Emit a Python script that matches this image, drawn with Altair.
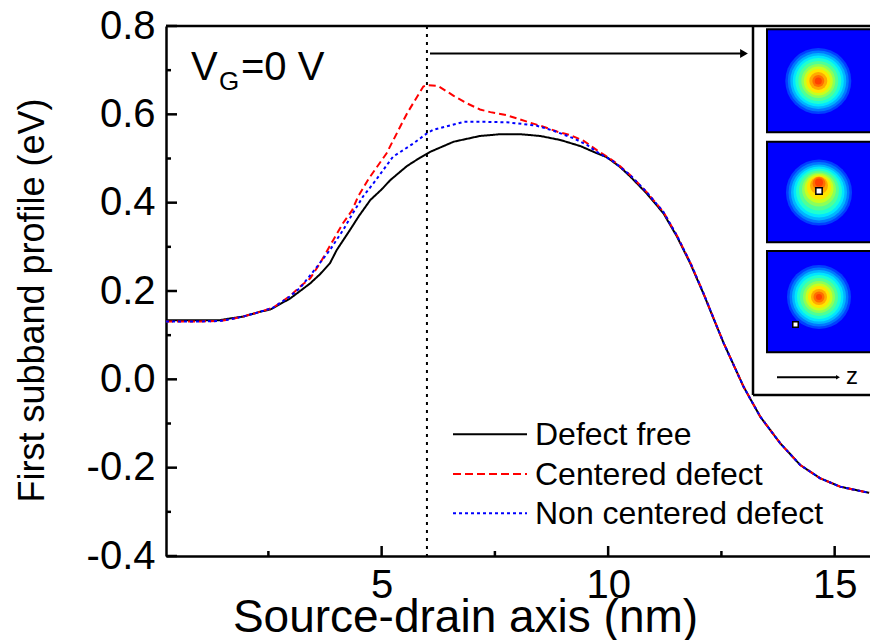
import altair as alt
import pandas as pd

# ---------------- data ----------------
series_names = ["Defect free", "Centered defect", "Non centered defect"]

free_x = [0.24, 1.0, 1.43, 1.66, 1.94, 2.32, 2.54, 2.98, 3.20, 3.42, 3.64, 3.86, 4.01, 4.30,
          4.50, 4.75, 5.00, 5.19, 5.56, 5.85, 6.07, 6.59, 7.17, 7.62, 8.06, 8.50, 8.94, 9.39,
          9.68, 9.97, 10.26, 10.49, 10.85, 11.22, 11.52, 11.81, 12.10, 12.40, 12.55, 12.99,
          13.36, 13.80, 14.24, 14.68, 15.12, 15.76]
free_y = [0.134, 0.134, 0.134, 0.138, 0.142, 0.153, 0.158, 0.183, 0.200, 0.217, 0.238, 0.263,
          0.293, 0.338, 0.370, 0.406, 0.430, 0.451, 0.483, 0.502, 0.515, 0.538, 0.551, 0.555,
          0.555, 0.551, 0.542, 0.528, 0.515, 0.503, 0.481, 0.459, 0.421, 0.376, 0.323, 0.263,
          0.195, 0.119, 0.082, -0.017, -0.085, -0.145, -0.194, -0.224, -0.243, -0.257]

cent_x = [0.24, 1.0, 1.43, 1.66, 1.94, 2.32, 2.60, 2.98, 3.20, 3.42, 3.64, 3.93, 4.15, 4.35,
          4.48, 4.72, 5.11, 5.56, 5.92, 6.00, 6.25, 6.59, 6.88, 7.17, 7.40, 7.76, 7.98, 8.28,
          8.57, 8.87, 9.16, 9.46, 9.75, 10.04, 10.26, 10.49, 10.85, 11.22, 11.52, 11.81, 12.10,
          12.40, 12.55, 12.99, 13.36, 13.80, 14.24, 14.68, 15.12, 15.76]
cent_y = [0.131, 0.131, 0.132, 0.136, 0.142, 0.153, 0.162, 0.189, 0.210, 0.228, 0.263, 0.315,
          0.354, 0.383, 0.414, 0.455, 0.512, 0.602, 0.663, 0.666, 0.664, 0.642, 0.625, 0.611,
          0.605, 0.598, 0.591, 0.581, 0.572, 0.561, 0.553, 0.540, 0.519, 0.500, 0.483, 0.462,
          0.424, 0.379, 0.325, 0.265, 0.196, 0.120, 0.082, -0.017, -0.085, -0.145, -0.194,
          -0.224, -0.243, -0.257]

nonc_x = [0.24, 1.0, 1.43, 1.66, 1.94, 2.32, 2.60, 2.98, 3.20, 3.49, 3.86, 4.15, 4.37, 4.59,
          4.85, 5.25, 5.70, 6.00, 6.14, 6.59, 6.81, 7.32, 7.76, 8.13, 8.43, 8.79, 9.23, 9.53,
          9.75, 10.12, 10.49, 10.85, 11.22, 11.52, 11.81, 12.10, 12.40, 12.55, 12.99, 13.36,
          13.80, 14.24, 14.68, 15.12, 15.76]
nonc_y = [0.131, 0.131, 0.132, 0.136, 0.142, 0.153, 0.162, 0.188, 0.207, 0.244, 0.293, 0.338,
          0.377, 0.414, 0.448, 0.504, 0.534, 0.557, 0.565, 0.577, 0.583, 0.583, 0.582, 0.578,
          0.574, 0.563, 0.546, 0.531, 0.515, 0.493, 0.462, 0.424, 0.379, 0.325, 0.265, 0.196,
          0.120, 0.082, -0.017, -0.085, -0.145, -0.194, -0.224, -0.243, -0.257]

x_major = [5, 10, 15]
x_minor = [2.5, 7.5, 12.5]
y_major = [-0.4, -0.2, 0.0, 0.2, 0.4, 0.6, 0.8]
y_minor = [-0.3, -0.1, 0.1, 0.3, 0.5, 0.7]
defect_pos = [6.0]

# inset: contour bands of the density in the three cross sections (outer -> inner)
level_colors = ["#0040ff", "#0078ff", "#00b4ff", "#00e6ff", "#1effd2", "#50ff96",
                "#8cff5a", "#c8ff1e", "#ffe600", "#ffaa00", "#ff6e00", "#ff4100"]
panel_diam = [
    [66, 61, 56, 51, 46, 40, 34, 29, 24, 18, 12, 7],
    [66, 61, 56, 51, 46, 40, 34, 29, 24, 18, 13, 8],
    [64, 59, 54, 49, 44, 38, 32, 27, 22, 16, 11, 6],
]
panel_shift = [
    [0, 0, 0, 0, 0, 0, 0, 0, 0, 0, 0, 0],
    [0, 0, 0, -0.5, -1, -2, -3, -4, -5, -7, -9, -10],
    [0, 0, 0, 0, 0, 0, 0, 0, 0, 0, 0, 0],
]

# ---------------- layout / style ----------------
W, H = 704, 530
FONT = "Liberation Sans"
X_DOM = [0.24, 15.78]
Y_DOM = [-0.4, 0.8]
panel_box = [(601, 710, 3.3, 106.3), (601, 710, 115.7, 216.3), (601, 710, 225, 326.3)]
panel_center = [(652.3, 55), (653, 166.5), (653, 271)]
defect_marks = [(653, 165, 40), (629.5, 298.5, 30)]

xs = alt.Scale(domain=X_DOM, nice=False, zero=False)
ys = alt.Scale(domain=Y_DOM, nice=False, zero=False)
pxs = alt.Scale(domain=[0, W], nice=False, zero=False)
pys = alt.Scale(domain=[0, H], nice=False, zero=False, reverse=True)
one = pd.DataFrame({"a": [0]})

xaxis = alt.Axis(values=x_major, format="d", ticks=False, tickSize=0, grid=False,
                 domainColor="black", domainWidth=2.5, labelFont=FONT, labelFontSize=40,
                 labelColor="black", labelPadding=9, labelFlush=False, labelOverlap=False,
                 title="Source-drain axis (nm)", titleFont=FONT, titleFontSize=46,
                 titleFontWeight="normal", titleColor="black", titleX=299, titleY=75,
                 titleAlign="center", titleBaseline="alphabetic")
yaxis = alt.Axis(values=y_major,
                 labelExpr="datum.value < 0 ? '-' + format(-datum.value, '.1f') : format(datum.value, '.1f')",
                 ticks=False, tickSize=0, grid=False, domainColor="black", domainWidth=2.5,
                 labelFont=FONT, labelFontSize=40, labelColor="black", labelPadding=11,
                 labelFlush=False, labelOverlap=False,
                 title="First subband profile (eV)", titleFont=FONT, titleFontSize=36,
                 titleFontWeight="normal", titleColor="black", titleAngle=270,
                 titleX=-123, titleY=274, titleAlign="center", titleBaseline="alphabetic")


def curve(xv, yv, color, dash, with_axes=False):
    df = pd.DataFrame({"x": xv, "y": yv})
    return alt.Chart(df).mark_line(color=color, strokeWidth=2, strokeDash=dash).encode(
        x=alt.X("x:Q", scale=xs, axis=xaxis if with_axes else None),
        y=alt.Y("y:Q", scale=ys, axis=yaxis if with_axes else None),
    )


def xticks(vals, length):
    return alt.Chart(pd.DataFrame({"v": vals})).mark_rule(color="black", strokeWidth=2.5).encode(
        x=alt.X("v:Q", scale=xs, axis=None), y=alt.value(H), y2=alt.value(H - length))


def yticks(vals, length):
    return alt.Chart(pd.DataFrame({"v": vals})).mark_rule(color="black", strokeWidth=2.5).encode(
        y=alt.Y("v:Q", scale=ys, axis=None), x=alt.value(0), x2=alt.value(length))


def hrule(x1, x2, y, width=2.5, dash=None, color="black"):
    kw = dict(color=color, strokeWidth=width)
    if dash:
        kw["strokeDash"] = dash
    return alt.Chart(one).mark_rule(**kw).encode(x=alt.value(x1), x2=alt.value(x2), y=alt.value(y))


def vrule(x, y1, y2, width=2.5):
    return alt.Chart(one).mark_rule(color="black", strokeWidth=width).encode(
        x=alt.value(x), y=alt.value(y1), y2=alt.value(y2))


def label(txt, x, y, size, align="left", baseline="alphabetic"):
    return alt.Chart(one).mark_text(text=txt, font=FONT, fontSize=size, color="black",
                                    align=align, baseline=baseline).encode(
        x=alt.value(x), y=alt.value(y))


def arrowhead(x, y, size):
    return alt.Chart(one).mark_point(shape="triangle-right", filled=True, size=size,
                                     color="black", opacity=1).encode(
        x=alt.value(x), y=alt.value(y))


# main curves, axes, ticks, frame
layers = [
    curve(free_x, free_y, "black", [1, 0], with_axes=True),
    curve(cent_x, cent_y, "#ff0000", [7, 4]),
    curve(nonc_x, nonc_y, "#0000ff", [3, 3]),
    xticks(x_major, 10), xticks(x_minor, 5),
    yticks(y_major, 11), yticks(y_minor, 5),
    hrule(0, W, 0),
    alt.Chart(pd.DataFrame({"v": defect_pos})).mark_rule(
        color="black", strokeWidth=2, strokeDash=[3, 5]).encode(
        x=alt.X("v:Q", scale=xs, axis=None), y=alt.value(0), y2=alt.value(H)),
    hrule(264, 578, 27.5, width=2),
    arrowhead(578, 27.5, 80),
]

# inset frame
layers += [vrule(587, 0, 369), hrule(587, W + 10, 369)]

# inset panels
pdf = pd.DataFrame([{"x": b[0], "x2": b[1], "y": b[2], "y2": b[3]} for b in panel_box])
layers.append(alt.Chart(pdf).mark_rect(fill="#0000fe", stroke="black", strokeWidth=2).encode(
    x=alt.X("x:Q", scale=pxs, axis=None), x2="x2",
    y=alt.Y("y:Q", scale=pys, axis=None), y2="y2"))

rows = []
for p, (cx, cy) in enumerate(panel_center):
    for k, col in enumerate(level_colors):
        rows.append({"x": cx, "y": cy + panel_shift[p][k], "s": panel_diam[p][k] ** 2, "c": col})
rdf = pd.DataFrame(rows)
layers.append(alt.Chart(rdf).mark_point(filled=True, shape="circle", opacity=1, strokeWidth=0).encode(
    x=alt.X("x:Q", scale=pxs, axis=None), y=alt.Y("y:Q", scale=pys, axis=None),
    size=alt.Size("s:Q", scale=None), fill=alt.Fill("c:N", scale=None)))

ddf = pd.DataFrame([{"x": d[0], "y": d[1], "s": d[2]} for d in defect_marks])
layers.append(alt.Chart(ddf).mark_square(fill="white", stroke="black", strokeWidth=1.5,
                                         opacity=1).encode(
    x=alt.X("x:Q", scale=pxs, axis=None), y=alt.Y("y:Q", scale=pys, axis=None),
    size=alt.Size("s:Q", scale=None)))

# z axis arrow in inset
layers += [hrule(611, 671, 351.3, width=2), arrowhead(672, 351.3, 20), label("z", 680, 357.5, 24)]

# V_G annotation
layers += [label("V", 25, 54, 40), label("G", 53, 64, 26), label("=0 V", 75, 54, 40)]

# legend
leg_y = [408.3, 448, 487.3]
leg_col = ["black", "#ff0000", "#0000ff"]
leg_dash = [[1, 0], [8, 4], [3, 3]]
for i, nm in enumerate(series_names):
    layers.append(hrule(287, 361, leg_y[i], width=2, dash=leg_dash[i], color=leg_col[i]))
    layers.append(label(nm, 369, leg_y[i] + 1, 32, baseline="middle"))

chart = alt.layer(*layers).resolve_scale(x="independent", y="independent").properties(
    width=W, height=H,
    padding={"left": 166, "top": 26, "right": 0, "bottom": 84},
    autosize=alt.AutoSizeParams(type="none"),
).configure_view(stroke=None)

chart.save("out.html", embed_options={"renderer": "svg", "actions": False})
